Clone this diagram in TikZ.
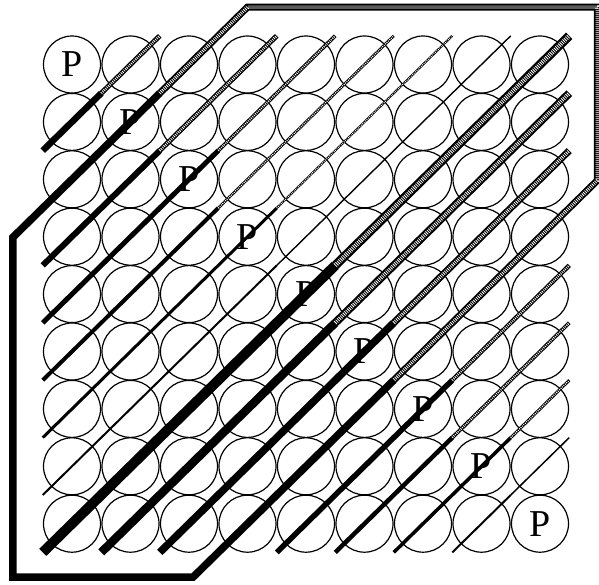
\documentclass[tikz,border=0pt]{standalone}
\usepackage{fontspec}
\setmainfont{Liberation Serif}
\usetikzlibrary{calc}

\begin{document}
\begin{tikzpicture}[
    x=1pt, y=-1pt,
    cell/.style={
        circle,
        draw,
        line width=1.2pt,
        minimum size=57pt,
        inner sep=0pt
    },
    plabel/.style={
        font=\fontsize{38}{38}\selectfont,
        inner sep=0pt
    },
    lower/.style={line width=#1, draw=black},
    upper/.style={
        line width=#1,
        draw=black,
        postaction={draw=white, line width=0.5*#1, dash pattern=on 0.8pt off 1.2pt}
    }
]
\useasboundingbox (0,0) rectangle (599,584);

\foreach \i in {1,...,9}
  \foreach \j in {1,...,9}
    \node[cell] (c-\i-\j) at ({72+58.5*(\j-1)}, {64.5+57.4*(\i-1)}) {};

\foreach \i in {1,...,9}
  \node[plabel] (p-\i) at (c-\i-\i) {P};

\foreach \k/\wl/\wu/\su in {3/6.5pt/5pt/upper, 5/6pt/5pt/upper, 6/5pt/3.8pt/upper,
    7/4pt/2.8pt/upper, 8/3pt/2.2pt/upper, 9/2pt/1.4pt/lower,
    10/10pt/9pt/upper, 11/8.5pt/8pt/upper, 12/7.5pt/7pt/upper,
    14/5.5pt/4.5pt/upper, 15/4.5pt/3.8pt/upper, 16/3.5pt/3pt/upper,
    17/2pt/1.5pt/lower} {
  \pgfmathtruncatemacro\imax{min(9,\k-1)}
  \pgfmathtruncatemacro\jmin{\k-\imax}
  \pgfmathtruncatemacro\imin{max(1,\k-9)}
  \pgfmathtruncatemacro\jmax{\k-\imin}
  \pgfmathtruncatemacro\ib{ceil(\k/2)}
  \pgfmathtruncatemacro\jb{\k-\ib}
  \pgfmathtruncatemacro\ig{\ib-1}
  \pgfmathtruncatemacro\jg{\jb+1}
  \draw[lower=\wl] ([shift={(-29.25,28.7)}]c-\imax-\jmin.center)
    -- ($(c-\ib-\jb)!.5!(c-\ig-\jg)$);
  \draw[\su=\wu] ($(c-\ib-\jb)!.5!(c-\ig-\jg)$)
    -- ([shift={(29.25,-28.7)}]c-\imin-\jmax.center);
}

% outer frames
\coordinate (ob1) at ($(c-3-1)!-1.01!(c-2-2)$);
\coordinate (ob3) at ($(c-9-4)!-0.93!(c-8-5)$);
\coordinate (og1) at ($(c-1-3)!-1.0!(c-2-2)$);
\coordinate (og3) at ($(c-4-9)!-0.98!(c-5-8)$);

\draw[lower=7.5pt, line join=miter] ($(c-2-2)!.5!(c-1-3)$) -- (ob1)
    -- (ob1 |- ob3) -- (ob3) -- ($(c-7-6)!.5!(c-6-7)$);
\draw[upper=7pt, line join=miter] ($(c-2-2)!.5!(c-1-3)$) -- (og1)
    -- (og3 |- og1) -- (og3) -- ($(c-7-6)!.5!(c-6-7)$);

\end{tikzpicture}
\end{document}
